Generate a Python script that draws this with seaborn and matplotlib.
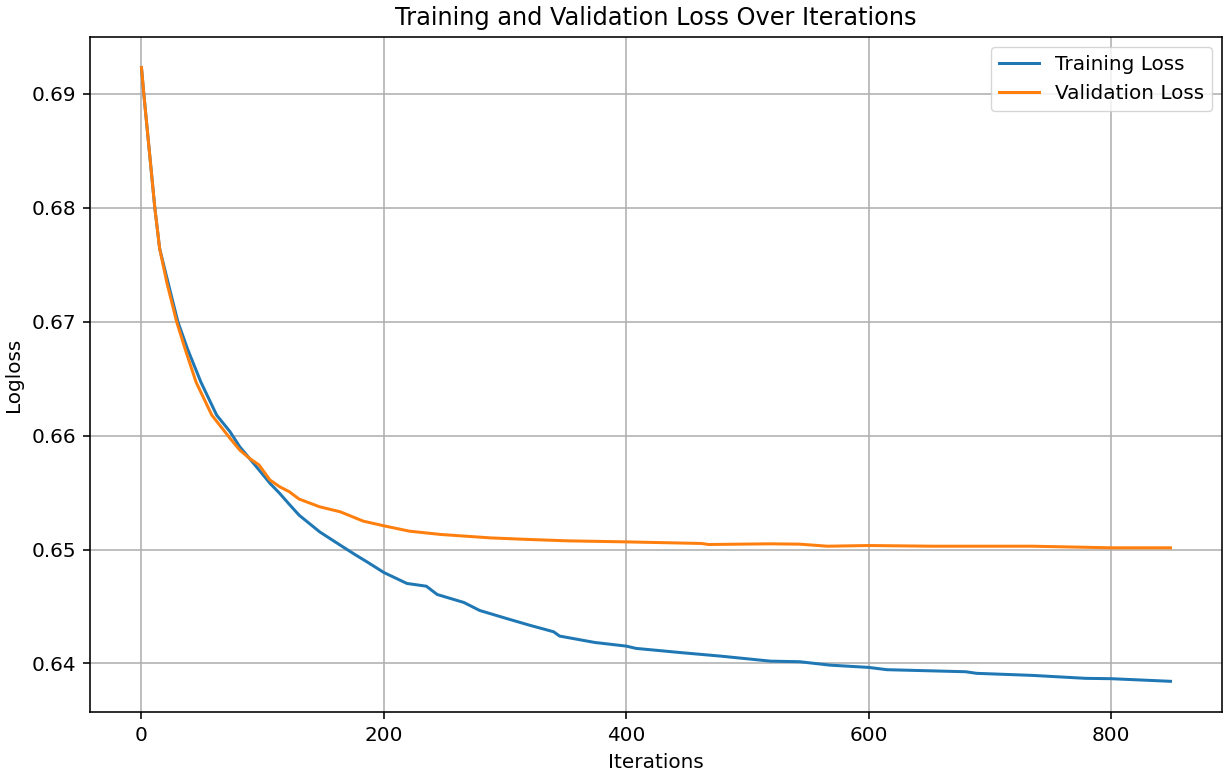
import matplotlib
matplotlib.use("Agg")
import matplotlib.pyplot as plt
import seaborn as sns
import pandas as pd

# Training loss (iteration, logloss)
train_iter = [0, 2, 7, 11, 15, 22, 30, 38, 49, 62, 73, 81, 89, 97, 106, 114, 122, 130,
              147, 164, 177, 186, 200, 219, 235, 244, 266, 279, 301, 320, 340, 345,
              374, 400, 408, 446, 478, 519, 543, 568, 600, 615, 680, 689, 735, 779,
              800, 849]
train_loss = [0.6923, 0.6899, 0.6844, 0.6800, 0.6764, 0.6734, 0.6700, 0.6676, 0.6647,
              0.6618, 0.66035, 0.65903, 0.65801, 0.65698, 0.65581, 0.65493, 0.65396,
              0.65302, 0.65155, 0.65038, 0.64950, 0.64892, 0.64798, 0.64702, 0.64678,
              0.64605, 0.64535, 0.64465, 0.64395, 0.64336, 0.64278, 0.64240, 0.64184,
              0.64152, 0.64132, 0.64094, 0.64064, 0.64020, 0.64015, 0.63985, 0.63965,
              0.63945, 0.63927, 0.63913, 0.63895, 0.63869, 0.63866, 0.63843]

# Validation loss
val_iter = [0, 2, 7, 11, 15, 21, 29, 36, 45, 58, 73, 81, 89, 97, 106, 114, 122, 130,
            147, 164, 183, 200, 221, 247, 288, 320, 352, 400, 462, 468, 519, 543, 566,
            600, 653, 735, 800, 849]
val_loss = [0.6923, 0.6899, 0.6844, 0.6800, 0.6764, 0.6734, 0.6700, 0.6676, 0.6647,
            0.6618, 0.65977, 0.65874, 0.65801, 0.65742, 0.65610, 0.65551, 0.65507,
            0.65443, 0.65375, 0.65331, 0.65249, 0.65208, 0.65161, 0.65132, 0.65102,
            0.65088, 0.65076, 0.65067, 0.65053, 0.65044, 0.65050, 0.65047, 0.65029,
            0.65035, 0.65029, 0.65029, 0.65015, 0.65015]

df_train = pd.DataFrame({"Iterations": train_iter, "Logloss": train_loss})
df_val = pd.DataFrame({"Iterations": val_iter, "Logloss": val_loss})

s = 1.44  # reference is rendered at a larger scale than the default
plt.rcParams.update({
    "axes.linewidth": 0.8 * s,
    "xtick.major.width": 0.8 * s,
    "ytick.major.width": 0.8 * s,
    "xtick.major.size": 3.5 * s,
    "ytick.major.size": 3.5 * s,
    "xtick.major.pad": 3.5 * s,
    "ytick.major.pad": 3.5 * s,
    "axes.labelpad": 4.0 * s,
    "axes.titlepad": 6.0 * s,
})

fig = plt.figure(figsize=(12.25, 7.75), dpi=100)
ax = fig.add_axes([0.0735, 0.0813, 0.924, 0.871])

sns.lineplot(data=df_train, x="Iterations", y="Logloss", ax=ax,
             color="#1f77b4", linewidth=1.5 * s, label="Training Loss")
sns.lineplot(data=df_val, x="Iterations", y="Logloss", ax=ax,
             color="#ff7f0e", linewidth=1.5 * s, label="Validation Loss")

ax.set_title("Training and Validation Loss Over Iterations", fontsize=12 * s)
ax.set_xlabel("Iterations", fontsize=10 * s)
ax.set_ylabel("Logloss", fontsize=10 * s)
ax.set_xticks([0, 200, 400, 600, 800])
ax.set_yticks([0.64, 0.65, 0.66, 0.67, 0.68, 0.69])
ax.tick_params(labelsize=10 * s)
ax.grid(True, color="#b0b0b0", linewidth=0.8 * s)
ax.legend(loc="upper right", fontsize=10 * s, borderpad=0.4, handlelength=2.0)

fig.savefig("out.png", dpi=100)
